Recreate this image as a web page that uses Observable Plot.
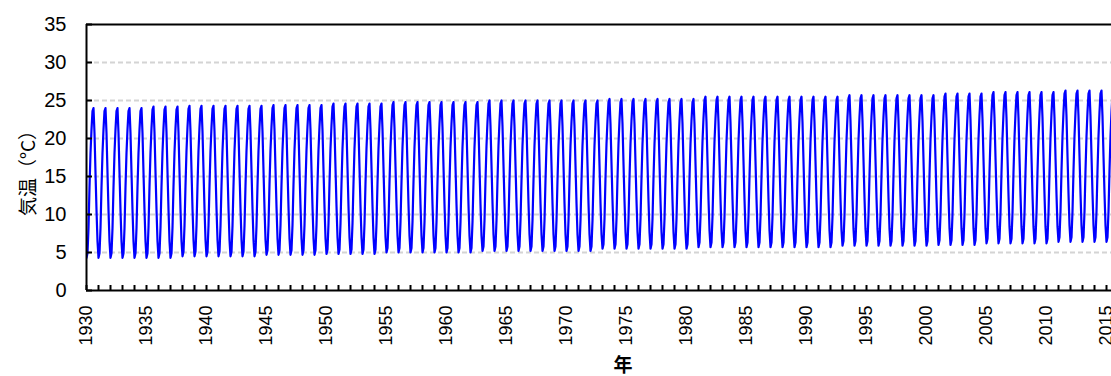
<!DOCTYPE html>
<html><head><meta charset="utf-8">
<script src="https://cdn.jsdelivr.net/npm/d3@7"></script>
<script src="https://cdn.jsdelivr.net/npm/@observablehq/plot@0.6"></script>
<style>body{margin:0;background:#fff;overflow:hidden} svg{display:block}</style>
</head><body><div id="chart"></div>
<script>
// Years shown (one row of 12 monthly mean temperatures per year, Jan..Dec)
const years = d3.range(1930, 2016);
const monthlyTemps = [
  [4.3,4.9,8.2,13.6,18.1,21.2,23.6,24.0,20.7,15.5,10.6,6.5], // 1930
  [4.3,4.9,8.2,13.6,18.1,21.2,23.6,24.0,20.7,15.5,10.6,6.5],
  [4.3,4.9,8.2,13.6,18.1,21.2,23.6,24.0,20.7,15.5,10.6,6.5],
  [4.3,4.9,8.2,13.6,18.1,21.2,23.6,24.0,20.7,15.5,10.6,6.5],
  [4.3,4.9,8.2,13.6,18.1,21.2,23.6,24.0,20.7,15.5,10.6,6.5],
  [4.3,4.9,8.3,13.7,18.2,21.4,23.8,24.2,20.8,15.6,10.7,6.5], // 1935
  [4.3,4.9,8.3,13.7,18.2,21.4,23.8,24.2,20.8,15.6,10.7,6.5],
  [4.3,4.9,8.3,13.7,18.2,21.4,23.8,24.2,20.8,15.6,10.7,6.5],
  [4.5,5.1,8.5,13.8,18.4,21.5,23.9,24.3,20.9,15.8,10.8,6.7],
  [4.5,5.1,8.5,13.8,18.4,21.5,23.9,24.3,20.9,15.8,10.8,6.7],
  [4.5,5.1,8.5,13.8,18.4,21.5,23.9,24.3,20.9,15.8,10.8,6.7], // 1940
  [4.5,5.1,8.5,13.8,18.4,21.5,23.9,24.3,20.9,15.8,10.8,6.7],
  [4.5,5.1,8.5,13.8,18.4,21.5,23.9,24.3,20.9,15.8,10.8,6.7],
  [4.5,5.1,8.5,13.8,18.4,21.5,23.9,24.3,20.9,15.8,10.8,6.7],
  [4.5,5.1,8.5,13.8,18.4,21.5,23.9,24.3,20.9,15.8,10.8,6.7],
  [4.7,5.3,8.6,14.0,18.5,21.6,24.0,24.4,21.1,15.9,11.0,6.9], // 1945
  [4.7,5.3,8.6,14.0,18.5,21.6,24.0,24.4,21.1,15.9,11.0,6.9],
  [4.7,5.3,8.6,14.0,18.5,21.6,24.0,24.4,21.1,15.9,11.0,6.9],
  [4.7,5.3,8.6,14.0,18.5,21.6,24.0,24.4,21.1,15.9,11.0,6.9],
  [4.7,5.3,8.6,14.0,18.5,21.6,24.0,24.4,21.1,15.9,11.0,6.9],
  [4.8,5.4,8.8,14.1,18.7,21.8,24.2,24.6,21.2,16.1,11.1,7.0], // 1950
  [4.8,5.4,8.8,14.1,18.7,21.8,24.2,24.6,21.2,16.1,11.1,7.0],
  [4.8,5.4,8.8,14.1,18.7,21.8,24.2,24.6,21.2,16.1,11.1,7.0],
  [4.8,5.4,8.8,14.1,18.7,21.8,24.2,24.6,21.2,16.1,11.1,7.0],
  [4.8,5.4,8.8,14.1,18.7,21.8,24.2,24.6,21.2,16.1,11.1,7.0],
  [5.0,5.6,9.0,14.3,18.9,22.0,24.4,24.8,21.4,16.3,11.3,7.2], // 1955
  [5.0,5.6,9.0,14.3,18.9,22.0,24.4,24.8,21.4,16.3,11.3,7.2],
  [5.0,5.6,9.0,14.3,18.9,22.0,24.4,24.8,21.4,16.3,11.3,7.2],
  [5.0,5.6,9.0,14.3,18.9,22.0,24.4,24.8,21.4,16.3,11.3,7.2],
  [5.0,5.6,9.0,14.3,18.9,22.0,24.4,24.8,21.4,16.3,11.3,7.2],
  [5.0,5.6,9.0,14.3,18.9,22.0,24.4,24.8,21.4,16.3,11.3,7.2], // 1960
  [5.0,5.6,9.0,14.3,18.9,22.0,24.4,24.8,21.4,16.3,11.3,7.2],
  [5.0,5.6,9.0,14.3,18.9,22.0,24.4,24.8,21.4,16.3,11.3,7.2],
  [5.2,5.8,9.2,14.5,19.1,22.2,24.6,25.0,21.6,16.5,11.5,7.4],
  [5.2,5.8,9.2,14.5,19.1,22.2,24.6,25.0,21.6,16.5,11.5,7.4],
  [5.2,5.8,9.2,14.5,19.1,22.2,24.6,25.0,21.6,16.5,11.5,7.4], // 1965
  [5.2,5.8,9.2,14.5,19.1,22.2,24.6,25.0,21.6,16.5,11.5,7.4],
  [5.2,5.8,9.2,14.5,19.1,22.2,24.6,25.0,21.6,16.5,11.5,7.4],
  [5.2,5.8,9.2,14.5,19.1,22.2,24.6,25.0,21.6,16.5,11.5,7.4],
  [5.2,5.8,9.2,14.5,19.1,22.2,24.6,25.0,21.6,16.5,11.5,7.4],
  [5.2,5.8,9.2,14.5,19.1,22.2,24.6,25.0,21.6,16.5,11.5,7.4], // 1970
  [5.2,5.8,9.2,14.5,19.1,22.2,24.6,25.0,21.6,16.5,11.5,7.4],
  [5.2,5.8,9.2,14.5,19.1,22.2,24.6,25.0,21.6,16.5,11.5,7.4],
  [5.5,6.1,9.4,14.8,19.3,22.4,24.8,25.2,21.9,16.7,11.8,7.7],
  [5.5,6.1,9.4,14.8,19.3,22.4,24.8,25.2,21.9,16.7,11.8,7.7],
  [5.5,6.1,9.4,14.8,19.3,22.4,24.8,25.2,21.9,16.7,11.8,7.7], // 1975
  [5.5,6.1,9.4,14.8,19.3,22.4,24.8,25.2,21.9,16.7,11.8,7.7],
  [5.5,6.1,9.4,14.8,19.3,22.4,24.8,25.2,21.9,16.7,11.8,7.7],
  [5.5,6.1,9.4,14.8,19.3,22.4,24.8,25.2,21.9,16.7,11.8,7.7],
  [5.5,6.1,9.4,14.8,19.3,22.4,24.8,25.2,21.9,16.7,11.8,7.7],
  [5.5,6.1,9.4,14.8,19.3,22.4,24.8,25.2,21.9,16.7,11.8,7.7], // 1980
  [5.7,6.3,9.7,15.0,19.6,22.7,25.1,25.5,22.1,17.0,12.0,7.9],
  [5.7,6.3,9.7,15.0,19.6,22.7,25.1,25.5,22.1,17.0,12.0,7.9],
  [5.7,6.3,9.7,15.0,19.6,22.7,25.1,25.5,22.1,17.0,12.0,7.9],
  [5.7,6.3,9.7,15.0,19.6,22.7,25.1,25.5,22.1,17.0,12.0,7.9],
  [5.7,6.3,9.7,15.0,19.6,22.7,25.1,25.5,22.1,17.0,12.0,7.9], // 1985
  [5.7,6.3,9.7,15.0,19.6,22.7,25.1,25.5,22.1,17.0,12.0,7.9],
  [5.7,6.3,9.7,15.0,19.6,22.7,25.1,25.5,22.1,17.0,12.0,7.9],
  [5.7,6.3,9.7,15.0,19.6,22.7,25.1,25.5,22.1,17.0,12.0,7.9],
  [5.7,6.3,9.7,15.0,19.6,22.7,25.1,25.5,22.1,17.0,12.0,7.9],
  [5.7,6.3,9.7,15.0,19.6,22.7,25.1,25.5,22.1,17.0,12.0,7.9], // 1990
  [5.7,6.3,9.7,15.0,19.6,22.7,25.1,25.5,22.1,17.0,12.0,7.9],
  [5.7,6.3,9.7,15.0,19.6,22.7,25.1,25.5,22.1,17.0,12.0,7.9],
  [5.9,6.5,9.9,15.2,19.8,22.9,25.3,25.7,22.3,17.2,12.2,8.1],
  [5.9,6.5,9.9,15.2,19.8,22.9,25.3,25.7,22.3,17.2,12.2,8.1],
  [5.9,6.5,9.9,15.2,19.8,22.9,25.3,25.7,22.3,17.2,12.2,8.1], // 1995
  [5.9,6.5,9.9,15.2,19.8,22.9,25.3,25.7,22.3,17.2,12.2,8.1],
  [5.9,6.5,9.9,15.2,19.8,22.9,25.3,25.7,22.3,17.2,12.2,8.1],
  [5.9,6.5,9.9,15.2,19.8,22.9,25.3,25.7,22.3,17.2,12.2,8.1],
  [5.9,6.5,9.9,15.2,19.8,22.9,25.3,25.7,22.3,17.2,12.2,8.1],
  [5.9,6.5,9.9,15.2,19.8,22.9,25.3,25.7,22.3,17.2,12.2,8.1], // 2000
  [6.0,6.6,10.0,15.4,19.9,23.1,25.5,25.9,22.5,17.3,12.4,8.2],
  [6.0,6.6,10.0,15.4,19.9,23.1,25.5,25.9,22.5,17.3,12.4,8.2],
  [6.0,6.6,10.0,15.4,19.9,23.1,25.5,25.9,22.5,17.3,12.4,8.2],
  [6.0,6.6,10.0,15.4,19.9,23.1,25.5,25.9,22.5,17.3,12.4,8.2],
  [6.2,6.8,10.2,15.6,20.1,23.3,25.7,26.1,22.7,17.5,12.6,8.4], // 2005
  [6.2,6.8,10.2,15.6,20.1,23.3,25.7,26.1,22.7,17.5,12.6,8.4],
  [6.2,6.8,10.2,15.6,20.1,23.3,25.7,26.1,22.7,17.5,12.6,8.4],
  [6.2,6.8,10.2,15.6,20.1,23.3,25.7,26.1,22.7,17.5,12.6,8.4],
  [6.2,6.8,10.2,15.6,20.1,23.3,25.7,26.1,22.7,17.5,12.6,8.4],
  [6.2,6.8,10.2,15.6,20.1,23.3,25.7,26.1,22.7,17.5,12.6,8.4], // 2010
  [6.4,7.0,10.4,15.8,20.3,23.5,25.9,26.3,22.9,17.7,12.8,8.6],
  [6.4,7.0,10.4,15.8,20.3,23.5,25.9,26.3,22.9,17.7,12.8,8.6],
  [6.4,7.0,10.4,15.8,20.3,23.5,25.9,26.3,22.9,17.7,12.8,8.6],
  [6.4,7.0,10.4,15.8,20.3,23.5,25.9,26.3,22.9,17.7,12.8,8.6],
  [6.4,7.0,10.4,15.8,20.3,23.5,25.9,26.3,22.9,17.7,12.8,8.6]  // 2015
];
const xLabelYears = [1930,1935,1940,1945,1950,1955,1960,1965,1970,1975,1980,1985,1990,1995,2000,2005,2010,2015];
const yTicks = [0,5,10,15,20,25,30,35];
const gridValues = [5,10,15,20,25,30];
const yTitle = "気温（°C）";
const xTitle = "年";

const data = years.flatMap((yr, i) => monthlyTemps[i].map((v, m) => ({t: yr + m / 12, v})));

const W = 1111, H = 376, ML = 86, MT = 24, MB = 86, MR = 0;
const plotW = W - ML - MR, plotH = H - MT - MB;
const pxPerYear = 12;

const chart = Plot.plot({
  width: W, height: H,
  marginLeft: ML, marginTop: MT, marginBottom: MB, marginRight: MR,
  x: {domain: [1930, 1930 + plotW / pxPerYear]},
  y: {domain: [0, 35]},
  style: {fontFamily: "'Liberation Sans', Arial, 'Noto Sans CJK JP', sans-serif", background: "#fff", color: "#000", overflow: "hidden"},
  marks: [
    Plot.ruleY(gridValues, {stroke: "#d4d4d4", strokeWidth: 2, strokeDasharray: "5,3"}),
    Plot.line(data, {x: "t", y: "v", stroke: "#0000ff", strokeWidth: 2.2, clip: true}),
    Plot.ruleY([0, 35], {stroke: "#000", strokeWidth: 2}),
    Plot.ruleX([1930], {stroke: "#000", strokeWidth: 2}),
    Plot.tickX(years, {x: d => d, insetTop: plotH - 5, stroke: "#000", strokeWidth: 2}),
    Plot.tickY(yTicks, {y: d => d, insetRight: plotW - 6, stroke: "#000", strokeWidth: 2}),
    Plot.axisX({ticks: xLabelYears, tickFormat: "d", tickRotate: -90, tickSize: 0, tickPadding: 15, fontSize: 18, label: null}),
    Plot.axisY({ticks: yTicks, tickSize: 0, tickPadding: 20, fontSize: 20, label: null}),
    Plot.text([yTitle], {frameAnchor: "left", textAnchor: "middle", rotate: -90, dx: -58, dy: 11, fontSize: 19, text: d => d, fontFamily: "'Noto Sans CJK JP', sans-serif"}),
    Plot.text([xTitle], {frameAnchor: "bottom", dy: 81, dx: 24, fontSize: 19, fontWeight: "bold", text: d => d, fontFamily: "'Noto Sans CJK JP', sans-serif"})
  ]
});
document.getElementById("chart").appendChild(chart);
</script>
</body></html>
